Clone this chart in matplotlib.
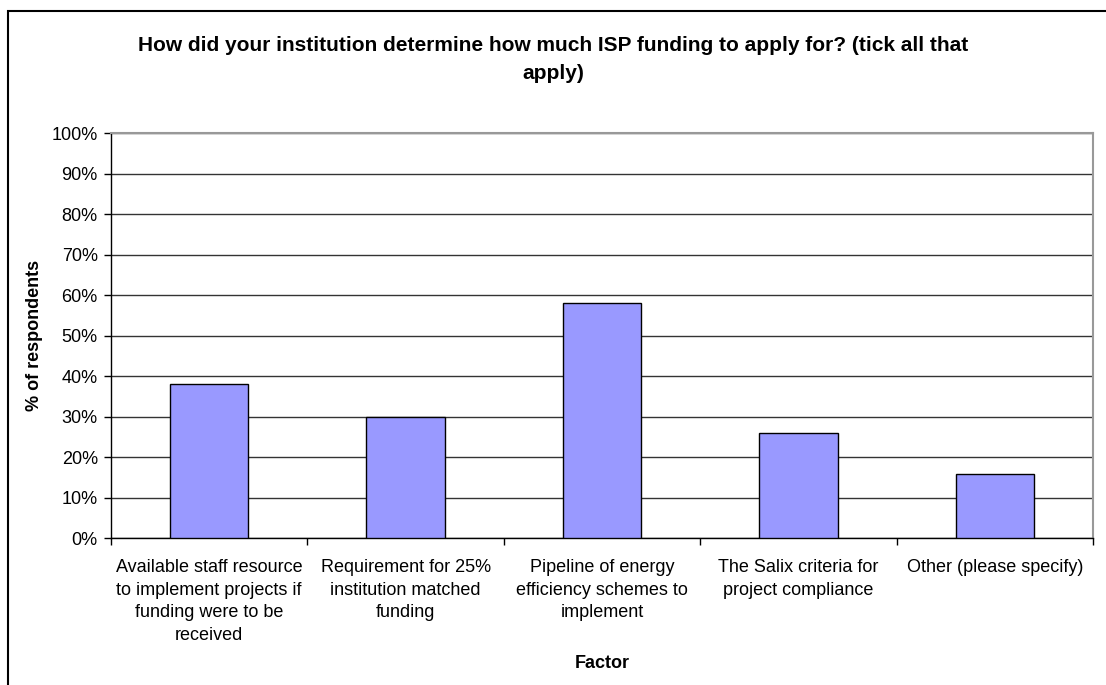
import matplotlib
matplotlib.use("Agg")
import matplotlib.pyplot as plt
from matplotlib.patches import Rectangle
from matplotlib.ticker import FixedLocator, PercentFormatter
import numpy as np

plt.rcParams['font.family'] = ['Liberation Sans', 'DejaVu Sans']

categories = [
    "Available staff resource\nto implement projects if\nfunding were to be\nreceived",
    "Requirement for 25%\ninstitution matched\nfunding",
    "Pipeline of energy\nefficiency schemes to\nimplement",
    "The Salix criteria for\nproject compliance",
    "Other (please specify)",
]
percent_respondents = [38, 30, 58, 26, 16]
y_ticks = list(range(0, 101, 10))

title = "How did your institution determine how much ISP funding to apply for? (tick all that\napply)"

W, H = 1106, 685
fig = plt.figure(figsize=(W / 100, H / 100), dpi=100)
fig.patch.set_facecolor("white")

# outer chart frame (open at right and bottom edges of the image)
fig.add_artist(Rectangle((8 / W, -0.05), 1.2, 1 - 10.5 / H + 0.05,
                         transform=fig.transFigure, fill=False,
                         edgecolor="black", linewidth=1.5))

ax = fig.add_axes([111 / W, 1 - 538.3 / H, (1093 - 111) / W, (538.3 - 133.3) / H])

x = np.arange(len(categories))
ax.bar(x, percent_respondents, width=0.4, color="#9999FF",
       edgecolor="black", linewidth=1.0, zorder=3)

ax.set_xlim(-0.5, len(categories) - 0.5)
ax.set_ylim(0, 100)

ax.yaxis.set_major_locator(FixedLocator(y_ticks))
ax.yaxis.set_major_formatter(PercentFormatter(decimals=0))
ax.grid(axis="y", color="#333333", linewidth=1.0, zorder=0)
ax.set_axisbelow(True)

# category labels centred under each bar, ticks on category boundaries
ax.set_xticks(x)
ax.set_xticklabels(categories, fontsize=13, linespacing=1.43)
ax.set_xticks(np.arange(len(categories) + 1) - 0.5, minor=True)
ax.tick_params(axis="x", which="major", length=0, pad=15)
ax.tick_params(axis="x", which="minor", length=5, width=1, direction="out")
ax.tick_params(axis="y", length=5, width=1, direction="out", pad=4.5, labelsize=13)

for side in ("left", "bottom"):
    ax.spines[side].set_color("black")
    ax.spines[side].set_linewidth(1.0)
for side in ("top", "right"):
    ax.spines[side].set_color("#999999")
    ax.spines[side].set_linewidth(1.5)

ax.set_ylabel("% of respondents", fontsize=13, fontweight="bold")
ax.yaxis.set_label_coords(-68 / (1093 - 111), 0.5)
ax.set_xlabel("Factor", fontsize=13, fontweight="bold")
ax.xaxis.set_label_coords(0.5, -(663 - 538.3) / (538.3 - 133.3))
ax.xaxis.label.set_verticalalignment("center")

fig.text(553 / W, 1 - 59.5 / H, title, ha="center", va="center",
         fontsize=15, fontweight="bold", linespacing=1.56)

fig.savefig("out.png", dpi=100, facecolor="white")
